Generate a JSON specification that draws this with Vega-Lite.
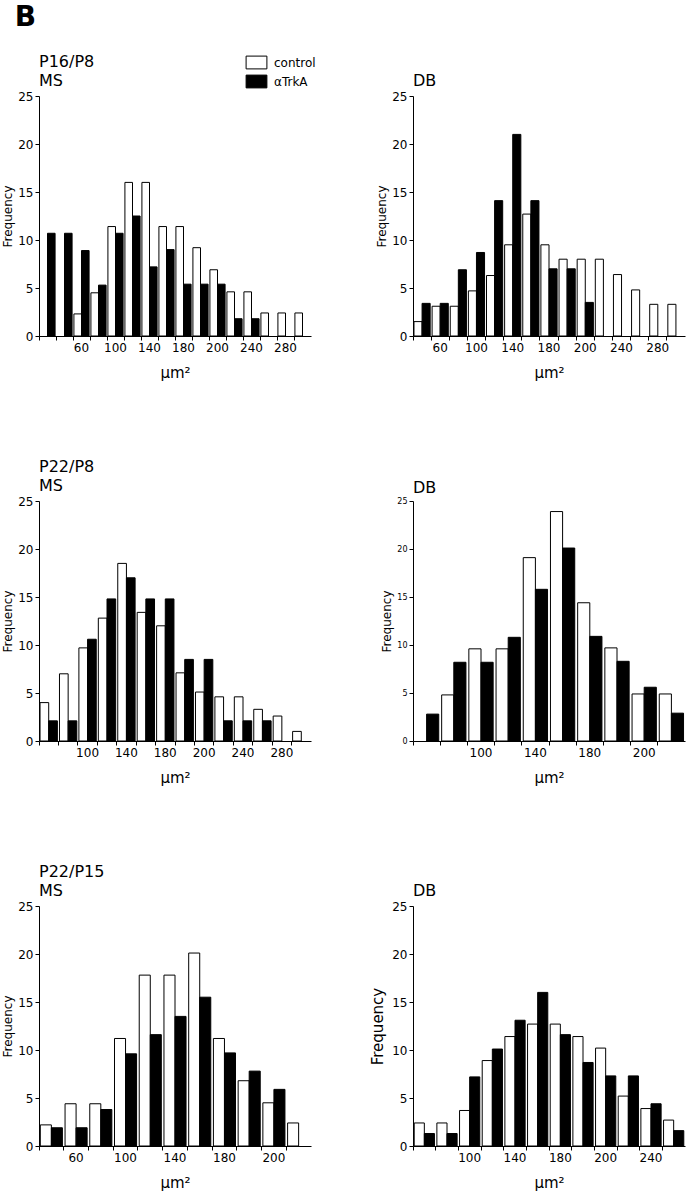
{
  "$schema": "https://vega.github.io/schema/vega-lite/v6.json",
  "background": "white",
  "padding": {"left": 1, "top": 4, "right": 4, "bottom": 4},
  "title": {"text": "B", "fontSize": 28, "fontWeight": "bold", "anchor": "start", "frame": "bounds", "dx": 13, "offset": 22, "font": "DejaVu Sans", "color": "black"},
  "data": {"values": [
    {"p":1,"b":2,"g":"control","f":2.3},{"p":1,"b":3,"g":"control","f":4.5},{"p":1,"b":4,"g":"control","f":11.4},{"p":1,"b":5,"g":"control","f":16.0},{"p":1,"b":6,"g":"control","f":16.0},{"p":1,"b":7,"g":"control","f":11.4},{"p":1,"b":8,"g":"control","f":11.4},{"p":1,"b":9,"g":"control","f":9.2},{"p":1,"b":10,"g":"control","f":6.9},{"p":1,"b":11,"g":"control","f":4.6},{"p":1,"b":12,"g":"control","f":4.6},{"p":1,"b":13,"g":"control","f":2.4},{"p":1,"b":14,"g":"control","f":2.4},{"p":1,"b":15,"g":"control","f":2.4},
    {"p":1,"b":0,"g":"αTrkA","f":10.7},{"p":1,"b":1,"g":"αTrkA","f":10.7},{"p":1,"b":2,"g":"αTrkA","f":8.9},{"p":1,"b":3,"g":"αTrkA","f":5.3},{"p":1,"b":4,"g":"αTrkA","f":10.7},{"p":1,"b":5,"g":"αTrkA","f":12.5},{"p":1,"b":6,"g":"αTrkA","f":7.2},{"p":1,"b":7,"g":"αTrkA","f":9.0},{"p":1,"b":8,"g":"αTrkA","f":5.4},{"p":1,"b":9,"g":"αTrkA","f":5.4},{"p":1,"b":10,"g":"αTrkA","f":5.4},{"p":1,"b":11,"g":"αTrkA","f":1.8},{"p":1,"b":12,"g":"αTrkA","f":1.8},
    {"p":2,"b":0,"g":"control","f":1.5},{"p":2,"b":1,"g":"control","f":3.1},{"p":2,"b":2,"g":"control","f":3.1},{"p":2,"b":3,"g":"control","f":4.7},{"p":2,"b":4,"g":"control","f":6.3},{"p":2,"b":5,"g":"control","f":9.5},{"p":2,"b":6,"g":"control","f":12.7},{"p":2,"b":7,"g":"control","f":9.5},{"p":2,"b":8,"g":"control","f":8.0},{"p":2,"b":9,"g":"control","f":8.0},{"p":2,"b":10,"g":"control","f":8.0},{"p":2,"b":11,"g":"control","f":6.4},{"p":2,"b":12,"g":"control","f":4.8},{"p":2,"b":13,"g":"control","f":3.3},{"p":2,"b":14,"g":"control","f":3.3},
    {"p":2,"b":0,"g":"αTrkA","f":3.4},{"p":2,"b":1,"g":"αTrkA","f":3.4},{"p":2,"b":2,"g":"αTrkA","f":6.9},{"p":2,"b":3,"g":"αTrkA","f":8.7},{"p":2,"b":4,"g":"αTrkA","f":14.1},{"p":2,"b":5,"g":"αTrkA","f":21.0},{"p":2,"b":6,"g":"αTrkA","f":14.1},{"p":2,"b":7,"g":"αTrkA","f":7.0},{"p":2,"b":8,"g":"αTrkA","f":7.0},{"p":2,"b":9,"g":"αTrkA","f":3.5},
    {"p":3,"b":0,"g":"control","f":4.0},{"p":3,"b":1,"g":"control","f":7.0},{"p":3,"b":2,"g":"control","f":9.7},{"p":3,"b":3,"g":"control","f":12.8},{"p":3,"b":4,"g":"control","f":18.5},{"p":3,"b":5,"g":"control","f":13.4},{"p":3,"b":6,"g":"control","f":12.0},{"p":3,"b":7,"g":"control","f":7.1},{"p":3,"b":8,"g":"control","f":5.1},{"p":3,"b":9,"g":"control","f":4.6},{"p":3,"b":10,"g":"control","f":4.6},{"p":3,"b":11,"g":"control","f":3.3},{"p":3,"b":12,"g":"control","f":2.6},{"p":3,"b":13,"g":"control","f":1.0},
    {"p":3,"b":0,"g":"αTrkA","f":2.1},{"p":3,"b":1,"g":"αTrkA","f":2.1},{"p":3,"b":2,"g":"αTrkA","f":10.6},{"p":3,"b":3,"g":"αTrkA","f":14.8},{"p":3,"b":4,"g":"αTrkA","f":17.0},{"p":3,"b":5,"g":"αTrkA","f":14.8},{"p":3,"b":6,"g":"αTrkA","f":14.8},{"p":3,"b":7,"g":"αTrkA","f":8.5},{"p":3,"b":8,"g":"αTrkA","f":8.5},{"p":3,"b":9,"g":"αTrkA","f":2.1},{"p":3,"b":10,"g":"αTrkA","f":2.1},{"p":3,"b":11,"g":"αTrkA","f":2.1},
    {"p":4,"b":1,"g":"control","f":4.8},{"p":4,"b":2,"g":"control","f":9.6},{"p":4,"b":3,"g":"control","f":9.6},{"p":4,"b":4,"g":"control","f":19.1},{"p":4,"b":5,"g":"control","f":23.9},{"p":4,"b":6,"g":"control","f":14.4},{"p":4,"b":7,"g":"control","f":9.7},{"p":4,"b":8,"g":"control","f":4.9},{"p":4,"b":9,"g":"control","f":4.9},
    {"p":4,"b":0,"g":"αTrkA","f":2.8},{"p":4,"b":1,"g":"αTrkA","f":8.2},{"p":4,"b":2,"g":"αTrkA","f":8.2},{"p":4,"b":3,"g":"αTrkA","f":10.8},{"p":4,"b":4,"g":"αTrkA","f":15.8},{"p":4,"b":5,"g":"αTrkA","f":20.1},{"p":4,"b":6,"g":"αTrkA","f":10.9},{"p":4,"b":7,"g":"αTrkA","f":8.3},{"p":4,"b":8,"g":"αTrkA","f":5.6},{"p":4,"b":9,"g":"αTrkA","f":2.9},
    {"p":5,"b":0,"g":"control","f":2.2},{"p":5,"b":1,"g":"control","f":4.4},{"p":5,"b":2,"g":"control","f":4.4},{"p":5,"b":3,"g":"control","f":11.2},{"p":5,"b":4,"g":"control","f":17.8},{"p":5,"b":5,"g":"control","f":17.8},{"p":5,"b":6,"g":"control","f":20.1},{"p":5,"b":7,"g":"control","f":11.2},{"p":5,"b":8,"g":"control","f":6.8},{"p":5,"b":9,"g":"control","f":4.5},{"p":5,"b":10,"g":"control","f":2.4},
    {"p":5,"b":0,"g":"αTrkA","f":1.9},{"p":5,"b":1,"g":"αTrkA","f":1.9},{"p":5,"b":2,"g":"αTrkA","f":3.8},{"p":5,"b":3,"g":"αTrkA","f":9.6},{"p":5,"b":4,"g":"αTrkA","f":11.6},{"p":5,"b":5,"g":"αTrkA","f":13.5},{"p":5,"b":6,"g":"αTrkA","f":15.5},{"p":5,"b":7,"g":"αTrkA","f":9.7},{"p":5,"b":8,"g":"αTrkA","f":7.8},{"p":5,"b":9,"g":"αTrkA","f":5.9},
    {"p":6,"b":0,"g":"control","f":2.4},{"p":6,"b":1,"g":"control","f":2.4},{"p":6,"b":2,"g":"control","f":3.7},{"p":6,"b":3,"g":"control","f":8.9},{"p":6,"b":4,"g":"control","f":11.4},{"p":6,"b":5,"g":"control","f":12.7},{"p":6,"b":6,"g":"control","f":12.7},{"p":6,"b":7,"g":"control","f":11.4},{"p":6,"b":8,"g":"control","f":10.2},{"p":6,"b":9,"g":"control","f":5.2},{"p":6,"b":10,"g":"control","f":3.9},{"p":6,"b":11,"g":"control","f":2.7},
    {"p":6,"b":0,"g":"αTrkA","f":1.3},{"p":6,"b":1,"g":"αTrkA","f":1.3},{"p":6,"b":2,"g":"αTrkA","f":7.2},{"p":6,"b":3,"g":"αTrkA","f":10.1},{"p":6,"b":4,"g":"αTrkA","f":13.1},{"p":6,"b":5,"g":"αTrkA","f":16.0},{"p":6,"b":6,"g":"αTrkA","f":11.6},{"p":6,"b":7,"g":"αTrkA","f":8.7},{"p":6,"b":8,"g":"αTrkA","f":7.3},{"p":6,"b":9,"g":"αTrkA","f":7.3},{"p":6,"b":10,"g":"αTrkA","f":4.4},{"p":6,"b":11,"g":"αTrkA","f":1.6}
  ]},
  "columns": 2,
  "bounds": "flush",
  "spacing": {"row": 165, "column": 102},
  "resolve": {"scale": {"x": "independent", "xOffset": "independent"}},
  "concat": [
    {
      "width": 272, "height": 240,
      "title": {"text": ["P16/P8", "MS"]},
      "transform": [{"filter": "datum.p == 1"}],
      "mark": {"type": "bar", "stroke": "black", "strokeWidth": 1},
      "encoding": {
        "x": {"field": "b", "type": "ordinal", "scale": {"domain": [0,1,2,3,4,5,6,7,8,9,10,11,12,13,14,15], "paddingInner": 0, "paddingOuter": 0},
              "axis": {"bandPosition": 0, "labelExpr": "['','','60','','100','','140','','180','','200','','240','','280',''][datum.value]", "title": "µm²"}},
        "xOffset": {"field": "g", "type": "nominal", "scale": {"domain": ["control", "αTrkA"], "paddingInner": 0, "paddingOuter": 0.12}},
        "y": {"field": "f", "type": "quantitative", "scale": {"domain": [0, 25]}, "axis": {"values": [0,5,10,15,20,25], "title": "Frequency"}},
        "fill": {"field": "g", "type": "nominal", "scale": {"domain": ["control", "αTrkA"], "range": ["white", "black"]}}
      }
    },
    {
      "width": 272, "height": 240,
      "title": {"text": "DB"},
      "transform": [{"filter": "datum.p == 2"}],
      "mark": {"type": "bar", "stroke": "black", "strokeWidth": 1},
      "encoding": {
        "x": {"field": "b", "type": "ordinal", "scale": {"domain": [0,1,2,3,4,5,6,7,8,9,10,11,12,13,14], "paddingInner": 0, "paddingOuter": 0},
              "axis": {"bandPosition": 0, "labelExpr": "['','60','','100','','140','','180','','200','','240','','280',''][datum.value]", "title": "µm²"}},
        "xOffset": {"field": "g", "type": "nominal", "scale": {"domain": ["control", "αTrkA"], "paddingInner": 0, "paddingOuter": 0.12}},
        "y": {"field": "f", "type": "quantitative", "scale": {"domain": [0, 25]}, "axis": {"values": [0,5,10,15,20,25], "title": "Frequency"}},
        "fill": {"field": "g", "type": "nominal", "scale": {"domain": ["control", "αTrkA"], "range": ["white", "black"]}}
      }
    },
    {
      "width": 272, "height": 240,
      "title": {"text": ["P22/P8", "MS"]},
      "transform": [{"filter": "datum.p == 3"}],
      "mark": {"type": "bar", "stroke": "black", "strokeWidth": 1},
      "encoding": {
        "x": {"field": "b", "type": "ordinal", "scale": {"domain": [0,1,2,3,4,5,6,7,8,9,10,11,12,13], "paddingInner": 0, "paddingOuter": 0},
              "axis": {"bandPosition": 0, "labelExpr": "['','','100','','140','','180','','200','','240','','280',''][datum.value]", "title": "µm²"}},
        "xOffset": {"field": "g", "type": "nominal", "scale": {"domain": ["control", "αTrkA"], "paddingInner": 0, "paddingOuter": 0.12}},
        "y": {"field": "f", "type": "quantitative", "scale": {"domain": [0, 25]}, "axis": {"values": [0,5,10,15,20,25], "title": "Frequency"}},
        "fill": {"field": "g", "type": "nominal", "scale": {"domain": ["control", "αTrkA"], "range": ["white", "black"]}}
      }
    },
    {
      "width": 272, "height": 240,
      "title": {"text": "DB"},
      "transform": [{"filter": "datum.p == 4"}],
      "mark": {"type": "bar", "stroke": "black", "strokeWidth": 1},
      "encoding": {
        "x": {"field": "b", "type": "ordinal", "scale": {"domain": [0,1,2,3,4,5,6,7,8,9], "paddingInner": 0, "paddingOuter": 0},
              "axis": {"bandPosition": 0, "labelExpr": "['','','100','','140','','180','','200',''][datum.value]", "title": "µm²"}},
        "xOffset": {"field": "g", "type": "nominal", "scale": {"domain": ["control", "αTrkA"], "paddingInner": 0, "paddingOuter": 0.12}},
        "y": {"field": "f", "type": "quantitative", "scale": {"domain": [0, 25]}, "axis": {"values": [0,5,10,15,20,25], "title": "Frequency", "labelFontSize": 8}},
        "fill": {"field": "g", "type": "nominal", "scale": {"domain": ["control", "αTrkA"], "range": ["white", "black"]}}
      }
    },
    {
      "width": 272, "height": 240,
      "title": {"text": ["P22/P15", "MS"]},
      "transform": [{"filter": "datum.p == 5"}],
      "mark": {"type": "bar", "stroke": "black", "strokeWidth": 1},
      "encoding": {
        "x": {"field": "b", "type": "ordinal", "scale": {"domain": [0,1,2,3,4,5,6,7,8,9,10], "paddingInner": 0, "paddingOuter": 0},
              "axis": {"bandPosition": 0, "labelExpr": "['','60','','100','','140','','180','','200',''][datum.value]", "title": "µm²"}},
        "xOffset": {"field": "g", "type": "nominal", "scale": {"domain": ["control", "αTrkA"], "paddingInner": 0, "paddingOuter": 0.12}},
        "y": {"field": "f", "type": "quantitative", "scale": {"domain": [0, 25]}, "axis": {"values": [0,5,10,15,20,25], "title": "Frequency"}},
        "fill": {"field": "g", "type": "nominal", "scale": {"domain": ["control", "αTrkA"], "range": ["white", "black"]}}
      }
    },
    {
      "width": 272, "height": 240,
      "title": {"text": "DB"},
      "transform": [{"filter": "datum.p == 6"}],
      "mark": {"type": "bar", "stroke": "black", "strokeWidth": 1},
      "encoding": {
        "x": {"field": "b", "type": "ordinal", "scale": {"domain": [0,1,2,3,4,5,6,7,8,9,10,11], "paddingInner": 0, "paddingOuter": 0},
              "axis": {"bandPosition": 0, "labelExpr": "['','','100','','140','','180','','200','','240',''][datum.value]", "title": "µm²"}},
        "xOffset": {"field": "g", "type": "nominal", "scale": {"domain": ["control", "αTrkA"], "paddingInner": 0, "paddingOuter": 0.12}},
        "y": {"field": "f", "type": "quantitative", "scale": {"domain": [0, 25]}, "axis": {"values": [0,5,10,15,20,25], "title": "Frequency", "titleFontSize": 15, "titlePadding": 6}},
        "fill": {"field": "g", "type": "nominal", "scale": {"domain": ["control", "αTrkA"], "range": ["white", "black"]}}
      }
    }
  ],
  "config": {
    "view": {"stroke": null},
    "font": "DejaVu Sans",
    "title": {"font": "DejaVu Sans", "fontSize": 16, "fontWeight": "normal", "anchor": "start", "frame": "group", "offset": 1, "lineHeight": 19, "color": "black"},
    "legend": {"title": null, "orient": "none", "legendX": 209, "legendY": -42, "padding": 0,
               "symbolType": "M-1.3,-0.8H1.3V0.8H-1.3Z", "symbolSize": 256, "symbolStrokeColor": "black", "symbolStrokeWidth": 1,
               "labelFont": "DejaVu Sans", "labelFontSize": 12, "labelColor": "black", "labelOffset": 9, "rowPadding": 2},
    "axis": {"grid": false, "domainColor": "black", "tickColor": "black", "labelColor": "black", "titleColor": "black",
             "labelFont": "DejaVu Sans", "titleFont": "DejaVu Sans", "titleFontWeight": "normal", "labelFontSize": 12,
             "tickSize": 4, "labelPadding": 2, "domainWidth": 1, "tickWidth": 1},
    "axisX": {"labelAngle": 0, "labelOverlap": false, "titleFontSize": 15, "titlePadding": 12},
    "axisY": {"titleFontSize": 12, "titlePadding": 3}
  }
}
